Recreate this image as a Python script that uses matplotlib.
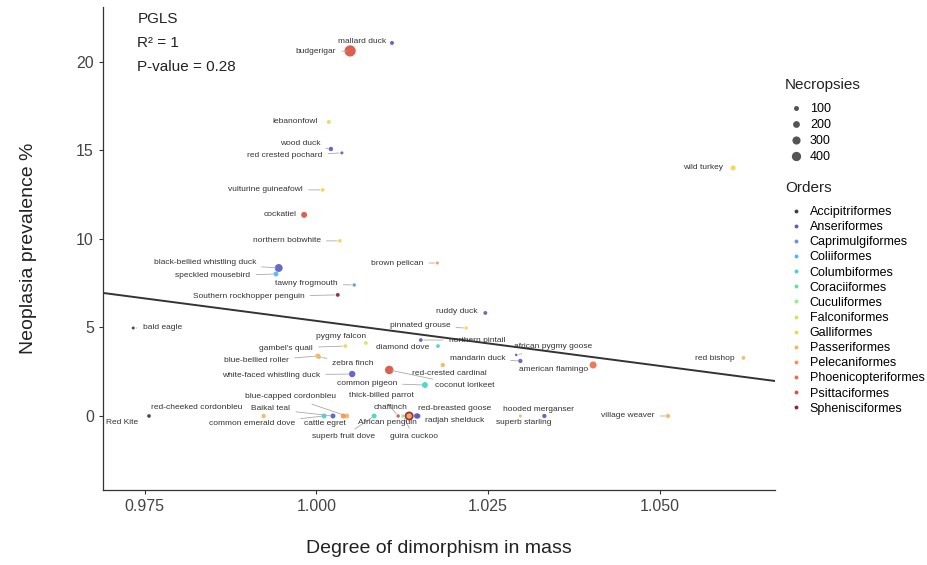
import matplotlib
matplotlib.use("Agg")
import matplotlib.pyplot as plt
from matplotlib.lines import Line2D
import numpy as np

plt.rcParams['font.family'] = ['Liberation Sans', 'DejaVu Sans']

# ---------------- data ----------------
species = [
    "mallard duck", "budgerigar", "lebanonfowl", "wood duck", "red crested pochard",
    "vulturine guineafowl", "cockatiel", "northern bobwhite", "black-bellied whistling duck",
    "speckled mousebird", "tawny frogmouth", "Southern rockhopper penguin", "brown pelican",
    "bald eagle", "wild turkey", "ruddy duck", "pinnated grouse", "northern pintail",
    "diamond dove", "african pygmy goose", "mandarin duck", "red-crested cardinal",
    "american flamingo", "red bishop", "coconut lorikeet", "common pigeon",
    "white-faced whistling duck", "gambel's quail", "pygmy falcon", "blue-bellied roller",
    "zebra finch", "Red Kite", "red-cheeked cordonbleu", "Baikal teal",
    "common emerald dove", "blue-capped cordonbleu", "cattle egret", "superb fruit dove",
    "thick-billed parrot", "guira cuckoo", "African penguin", "chaffinch",
    "red-breasted goose", "radjah shelduck", "hooded merganser", "superb starling",
    "village weaver",
]
dimorphism = [
    1.0110, 1.0049, 1.0018, 1.0021, 1.0037,
    1.0009, 0.9982, 1.0034, 0.9945,
    0.9941, 1.0055, 1.0031, 1.0176,
    0.9733, 1.0607, 1.0246, 1.0218, 1.0152,
    1.0177, 1.0291, 1.0297, 1.0184,
    1.0403, 1.0622, 1.0106, 1.0158,
    1.0052, 1.0042, 1.0072, 1.0002,
    1.0004, 0.9756, 0.9923, 1.0024,
    1.0011, 1.0044, 1.0039, 1.0084,
    1.0119, 1.0126, 1.0135, 1.0135,
    1.0146, 1.0148, 1.0332, 1.0297,
    1.0512,
]
prevalence = [
    21.07, 20.62, 16.61, 15.08, 14.86,
    12.77, 11.36, 9.89, 8.36,
    8.02, 7.40, 6.84, 8.64,
    4.97, 14.01, 5.82, 4.97, 4.29,
    3.95, 3.45, 3.11, 2.88,
    2.88, 3.28, 2.60, 1.75,
    2.37, 3.95, 4.12, 3.39,
    3.33, 0.0, 0.0, 0.0,
    0.0, 0.0, 0.0, 0.0,
    0.0, 0.0, 0.0, 0.0,
    0.0, 0.0, 0.0, 0.0,
    0.0,
]
necropsies = [
    60, 600, 55, 75, 30,
    50, 150, 50, 280,
    100, 40, 55, 30,
    30, 100, 55, 40, 50,
    50, 20, 70, 70,
    215, 50, 330, 150,
    180, 50, 50, 100,
    50, 50, 70, 100,
    100, 100, 100, 100,
    40, 40, 370, 120,
    120, 90, 70, 30,
    70,
]
orders = [
    "Anseriformes", "Psittaciformes", "Galliformes", "Anseriformes", "Anseriformes",
    "Galliformes", "Psittaciformes", "Galliformes", "Anseriformes",
    "Coliiformes", "Caprimulgiformes", "Sphenisciformes", "Pelecaniformes",
    "Accipitriformes", "Galliformes", "Anseriformes", "Galliformes", "Anseriformes",
    "Columbiformes", "Anseriformes", "Anseriformes", "Passeriformes",
    "Phoenicopteriformes", "Passeriformes", "Psittaciformes", "Columbiformes",
    "Anseriformes", "Galliformes", "Falconiformes", "Passeriformes",
    "Passeriformes", "Accipitriformes", "Passeriformes", "Anseriformes",
    "Columbiformes", "Passeriformes", "Pelecaniformes", "Columbiformes",
    "Psittaciformes", "Cuculiformes", "Sphenisciformes", "Passeriformes",
    "Anseriformes", "Anseriformes", "Anseriformes", "Passeriformes",
    "Passeriformes",
]
order_names = [
    "Accipitriformes", "Anseriformes", "Caprimulgiformes", "Coliiformes",
    "Columbiformes", "Coraciiformes", "Cuculiformes", "Falconiformes",
    "Galliformes", "Passeriformes", "Pelecaniformes", "Phoenicopteriformes",
    "Psittaciformes", "Sphenisciformes",
]
size_breaks = [100, 200, 300, 400]
fit_intercept = 56.17
fit_slope = -50.8
stats_lines = ["PGLS", "R\u00b2 = 1", "P-value = 0.28"]
x_ticks = [0.975, 1.000, 1.025, 1.050]
y_ticks = [0, 5, 10, 15, 20]

# ---------------- styles ----------------
order_colors = {
    "Accipitriformes": "#3d3d55", "Anseriformes": "#5a5cc4",
    "Caprimulgiformes": "#6a8fe6", "Coliiformes": "#55b5ee",
    "Columbiformes": "#3fd6c6", "Coraciiformes": "#5fdfa9",
    "Cuculiformes": "#95eb8b", "Falconiformes": "#cfe65c",
    "Galliformes": "#f1d64a", "Passeriformes": "#f5b45f",
    "Pelecaniformes": "#f29456", "Phoenicopteriformes": "#e96f4a",
    "Psittaciformes": "#d8543f", "Sphenisciformes": "#8e2434",
}

# label offsets in pixels (dx right, dy down) and whether a segment is drawn
label_style = {
    "mallard duck": (-30, -1, False), "budgerigar": (-34, 1, True),
    "lebanonfowl": (-34, 0, False), "wood duck": (-31, -5, True),
    "red crested pochard": (-57, 3, True), "vulturine guineafowl": (-57, 0, True),
    "cockatiel": (-24, 0, False), "northern bobwhite": (-53, 0, True),
    "black-bellied whistling duck": (-74, -5, True), "speckled mousebird": (-63, 2, True),
    "tawny frogmouth": (-48, -1, True), "Southern rockhopper penguin": (-89, 2, True),
    "brown pelican": (-40, 0, True), "bald eagle": (29, 0, True),
    "wild turkey": (-30, 0, False), "ruddy duck": (-29, -1, False),
    "pinnated grouse": (-46, -2, True), "northern pintail": (56, 0, True),
    "diamond dove": (-35, 1, False), "african pygmy goose": (37, -8, True),
    "mandarin duck": (-43, -2, True), "red-crested cardinal": (7, 8, False),
    "american flamingo": (-40, 4, False), "red bishop": (-29, 1, False),
    "coconut lorikeet": (76, 16, True), "common pigeon": (-58, -2, True),
    "white-faced whistling duck": (-81, 1, True), "gambel's quail": (-59, 2, True),
    "pygmy falcon": (-25, -7, False), "blue-bellied roller": (-61, 5, True),
    "zebra finch": (34, 6, True), "Red Kite": (-27, 7, False),
    "red-cheeked cordonbleu": (-67, -8, False), "Baikal teal": (-62, -7, True),
    "common emerald dove": (-72, 8, True), "blue-capped cordonbleu": (-56, -19, True),
    "cattle egret": (-18, 8, False), "superb fruit dove": (-31, 21, True),
    "thick-billed parrot": (-17, -20, True), "guira cuckoo": (11, 21, True),
    "African penguin": (-22, 7, False), "chaffinch": (-19, -8, False),
    "red-breasted goose": (38, -7, False), "radjah shelduck": (37, 5, False),
    "hooded merganser": (-6, -6, False), "superb starling": (3, 7, False),
    "village weaver": (-40, 0, True),
}

DPI = 100
PX2PT = 72.0 / DPI
W, H = 927, 565


def marker_area(n):
    d_px = 0.7 + 0.43 * np.sqrt(np.asarray(n, dtype=float))
    return (d_px * PX2PT) ** 2


fig = plt.figure(figsize=(W / DPI, H / DPI), dpi=DPI)
ax = fig.add_axes([103 / W, 1 - 490 / H, (775 - 103) / W, (490 - 7) / H])

ax.set_xlim(0.9689, 1.0668)
ax.set_ylim(-4.18, 23.1)

xs = np.array(dimorphism)
ys = np.array(prevalence)
cols = [order_colors[o] for o in orders]
ax.scatter(xs, ys, s=marker_area(necropsies), c=cols, alpha=0.92,
           linewidths=0, zorder=3)

# labels
for name, x, y in zip(species, xs, ys):
    dx, dy, seg = label_style[name]
    kw = {}
    if seg:
        kw['arrowprops'] = dict(arrowstyle='-', color='#aaaaaa', lw=0.6,
                                shrinkA=2, shrinkB=2)
    ax.annotate(name, xy=(x, y), xytext=(dx * PX2PT, -dy * PX2PT),
                textcoords='offset points', ha='center', va='center',
                fontsize=6, color='#333333', zorder=4, **kw)

# PGLS fit line
xl = np.array(ax.get_xlim())
ax.plot(xl, fit_intercept + fit_slope * xl, color='#333333', lw=1.4, zorder=5)

# stats text
for i, t in enumerate(stats_lines):
    ax.text(0.051, 0.99 - i * 0.05, t, transform=ax.transAxes, fontsize=11,
            color='#222222', va='top', ha='left')

# axes styling
for s in ['top', 'right']:
    ax.spines[s].set_visible(False)
for s in ['left', 'bottom']:
    ax.spines[s].set_color('#333333')
    ax.spines[s].set_linewidth(0.9)
ax.set_xticks(x_ticks)
ax.set_xticklabels([f"{v:.3f}" for v in x_ticks])
ax.set_yticks(y_ticks)
ax.tick_params(axis='both', labelsize=11.5, colors='#333333', labelcolor='#444444',
               length=3, width=0.8)
ax.set_xlabel("Degree of dimorphism in mass", fontsize=14, color='#222222', labelpad=19)
ax.set_ylabel("Neoplasia prevalence %", fontsize=14, color='#222222', labelpad=28)

# legends (titles placed as text, entries as legends)
fig.text(785 / W, 1 - 85 / H, "Necropsies", fontsize=11, color='#222222',
         ha='left', va='center')
fig.text(785 / W, 1 - 188 / H, "Orders", fontsize=11, color='#222222',
         ha='left', va='center')

size_handles = [Line2D([], [], linestyle='none', marker='o', color='#555555',
                       markeredgewidth=0,
                       markersize=np.sqrt(marker_area(b)))
                for b in size_breaks]
fig.legend(size_handles, [str(b) for b in size_breaks],
           loc='upper left', bbox_to_anchor=(788 / W, 1 - 103 / H),
           frameon=False, fontsize=9, borderpad=0,
           labelspacing=0.33, handletextpad=0.55, handlelength=1.2,
           borderaxespad=0)

order_handles = [Line2D([], [], linestyle='none', marker='o', color=order_colors[o],
                        markeredgewidth=0, markersize=2.8) for o in order_names]
fig.legend(order_handles, order_names,
           loc='upper left', bbox_to_anchor=(788 / W, 1 - 206 / H),
           frameon=False, fontsize=9, borderpad=0,
           labelspacing=0.25, handletextpad=0.55, handlelength=1.2,
           borderaxespad=0)

fig.savefig("out.png", dpi=DPI)
